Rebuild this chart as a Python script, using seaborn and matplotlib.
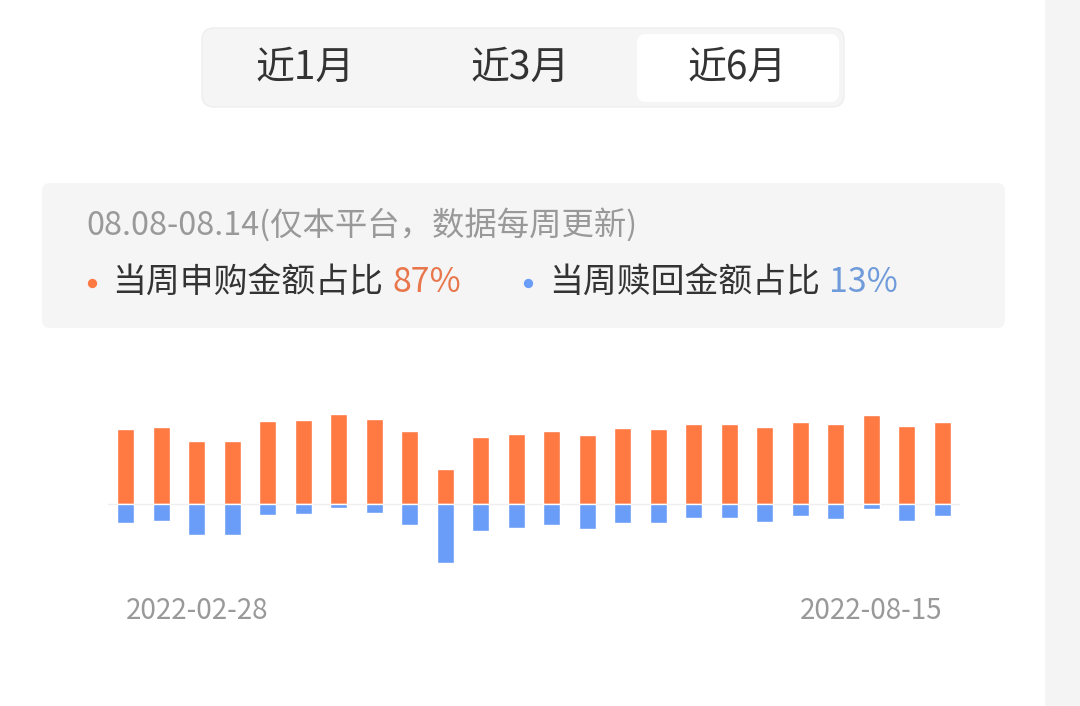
import matplotlib
matplotlib.use("Agg")
import matplotlib.pyplot as plt
from matplotlib.patches import FancyBboxPatch, Rectangle
import pandas as pd
import seaborn as sns

sns.set_theme(style="white")
plt.rcParams['font.family'] = ['Noto Sans CJK SC', 'DejaVu Sans']

# ------------------------------------------------------------
# Datos (unidades relativas)
# ------------------------------------------------------------
semanas = list(range(24))
compras = [74.4, 76.4, 63.0, 63.0, 83.0, 83.7, 89.4, 84.7, 72.4, 34.4, 66.7, 69.7,
           72.4, 68.7, 75.4, 74.4, 80.0, 79.4, 76.4, 82.0, 79.4, 88.4, 77.4, 82.0]
rescates = [19.6, 17.6, 31.3, 31.3, 11.3, 10.0, 4.6, 9.3, 21.6, 59.6, 27.3, 24.3,
            21.6, 25.3, 19.0, 19.6, 14.0, 14.6, 18.0, 12.3, 15.0, 5.6, 17.0, 12.3]
fecha_inicio = "2022-02-28"
fecha_fin = "2022-08-15"
pestanas = ["近1月", "近3月", "近6月"]
subtitulo = "08.08-08.14(仅本平台，数据每周更新)"
etiqueta_compra = "当周申购金额占比"
etiqueta_rescate = "当周赎回金额占比"
pct_compra = "87%"
pct_rescate = "13%"

NARANJA = "#FF7942"
AZUL = "#6A9DF7"
W, H = 1080, 706

df = pd.DataFrame({"semana": semanas, "compra": compras,
                   "rescate": [-v for v in rescates]})

fig = plt.figure(figsize=(W / 100, H / 100), dpi=100)
fig.patch.set_facecolor("white")

# Capa de fondo en coordenadas de píxel
bg = fig.add_axes([0, 0, 1, 1], zorder=0)
bg.set_xlim(0, W)
bg.set_ylim(H, 0)
bg.axis("off")

# franja gris derecha
bg.add_patch(Rectangle((1045, 0), W - 1045, H, color="#f4f4f4", lw=0))

# selector de periodo
bg.add_patch(FancyBboxPatch((202, 28), 642, 79, boxstyle="round,pad=0,rounding_size=12",
                            fc="#f5f5f5", ec="#eeeeee", lw=1))
bg.add_patch(FancyBboxPatch((637, 34), 202, 68, boxstyle="round,pad=0,rounding_size=9",
                            fc="white", ec="none"))
for txt, cx in zip(pestanas, [305, 520, 737]):
    bg.text(cx, 68, txt, fontsize=28, color="#333333", ha="center", va="center")

# caja de información
bg.add_patch(FancyBboxPatch((42, 183), 963, 145, boxstyle="round,pad=0,rounding_size=8",
                            fc="#f5f5f5", ec="none"))
bg.text(86, 225, subtitulo, fontsize=23.3, color="#999999", ha="left", va="center")
bg.scatter([92], [283], s=45, color=NARANJA, lw=0)
bg.text(112, 283, etiqueta_compra, fontsize=24.4, color="#333333", ha="left", va="center")
bg.text(392, 283, pct_compra, fontsize=24.4, color="#E8774C", ha="left", va="center")
bg.scatter([528], [283], s=45, color=AZUL, lw=0)
bg.text(549, 283, etiqueta_rescate, fontsize=24.4, color="#333333", ha="left", va="center")
bg.text(829, 283, pct_rescate, fontsize=24.4, color="#6F9BDA", ha="left", va="center")

# fechas
bg.text(126, 611, fecha_inicio, fontsize=20, color="#999999", ha="left", va="center")
bg.text(942, 611, fecha_fin, fontsize=20, color="#999999", ha="right", va="center")

# ------------------------------------------------------------
# Gráfico de barras
# ------------------------------------------------------------
x0, x1 = 108, 960
y_top, y_bot = 400, 580
cero = 503.7
ax = fig.add_axes([x0 / W, 1 - y_bot / H, (x1 - x0) / W, (y_bot - y_top) / H], zorder=1)
ax.patch.set_alpha(0)
sns.barplot(data=df, x="semana", y="compra", color=NARANJA, saturation=1,
            width=0.48, ax=ax)
sns.barplot(data=df, x="semana", y="rescate", color=AZUL, saturation=1,
            width=0.48, ax=ax)
ax.axhline(0, color="#eeeeee", lw=1, zorder=0)
ax.set_xlim(-0.5, len(semanas) - 0.5)
ax.set_ylim(-(y_bot - cero), cero - y_top)
ax.axis("off")

fig.savefig("out.png", dpi=100, facecolor=fig.get_facecolor())
